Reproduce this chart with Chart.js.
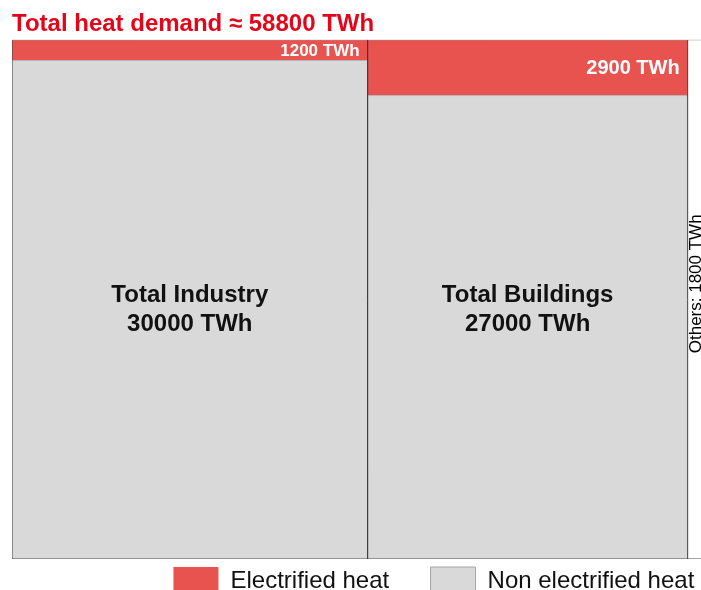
<!DOCTYPE html>
<html>
<head>
<meta charset="utf-8">
<script src="https://cdn.jsdelivr.net/npm/chart.js@4.4.1/dist/chart.umd.min.js"></script>
<style>
    html, body { margin: 0; padding: 0; background: #fff; overflow: hidden; }
    .chart-box { width: 709px; height: 605px; }
</style>
</head>
<body>
<div class="chart-box"><canvas id="heat-chart"></canvas></div>
<script>
var sectors = ['Total Industry', 'Total Buildings', 'Others'];
var sectorTotals = [30000, 27000, 1800];
var electrifiedHeat = [1200, 2900, null]; // no split for others
var legendLabels = ['Electrified heat', 'Non electrified heat'];

var RED = '#e9534f';
var GREY = '#d9d9d9';
var FONT = "'Liberation Sans', Arial, sans-serif";

var totalDemand = sectorTotals.reduce(function (a, b) { return a + b; }, 0);

// column edges along the x axis (TWh)
var edges = [0];
sectorTotals.forEach(function (t, i) { edges.push(edges[i] + t); });

// share of non electrified heat, in %
function greyShare(i) {
    return 100 * (1 - electrifiedHeat[i] / sectorTotals[i]);
}

function seg(points, style) {
    var ds = { data: points, showLine: true, pointRadius: 0, borderWidth: 0, fill: false, order: 1 };
    for (var k in style) ds[k] = style[k];
    return ds;
}

var datasets = [];
sectors.forEach(function (name, i) {
    if (electrifiedHeat[i] === null) return;
    var x0 = edges[i], x1 = edges[i + 1], g = greyShare(i);
    datasets.push(seg([{ x: x0, y: g }, { x: x1, y: g }], { backgroundColor: GREY, fill: 'origin', order: 3 }));
    datasets.push(seg([{ x: x0, y: 100 }, { x: x1, y: 100 }], { backgroundColor: RED, fill: { value: g }, order: 3 }));
    datasets.push(seg([{ x: x0, y: g }, { x: x1, y: g }], { borderColor: '#b5b5b5', borderWidth: 1, order: 2 }));
    // vertical sides of the column
    datasets.push(seg([{ x: x0, y: 0 }, { x: x0, y: 100 }], { borderColor: '#3c3c3c', borderWidth: 1 }));
    datasets.push(seg([{ x: x1, y: 0 }, { x: x1, y: 100 }], { borderColor: '#3c3c3c', borderWidth: 1 }));
});
// frame lines over the full width
datasets.push(seg([{ x: 0, y: 100 }, { x: totalDemand, y: 100 }], { borderColor: '#9a9a9a', borderWidth: 1 }));
datasets.push(seg([{ x: 0, y: 0 }, { x: totalDemand, y: 0 }], { borderColor: '#4a4a4a', borderWidth: 1 }));

var sectorLabels = {
    id: 'sectorLabels',
    afterDatasetsDraw: function (chart) {
        var ctx = chart.ctx;
        var xs = chart.scales.x, ys = chart.scales.y;
        ctx.save();
        sectors.forEach(function (name, i) {
            var cx = xs.getPixelForValue((edges[i] + edges[i + 1]) / 2);
            if (electrifiedHeat[i] === null) {
                ctx.save();
                ctx.translate(cx - 2, ys.getPixelForValue(53));
                ctx.rotate(-Math.PI / 2);
                ctx.font = '17px ' + FONT;
                ctx.fillStyle = '#000';
                ctx.textAlign = 'center';
                ctx.textBaseline = 'middle';
                ctx.fillText(name + ': ' + sectorTotals[i] + ' TWh', 0, 0);
                ctx.restore();
                return;
            }
            // name and total in the middle of the column
            var cy = ys.getPixelForValue(48);
            ctx.font = 'bold 24px ' + FONT;
            ctx.fillStyle = '#111';
            ctx.textAlign = 'center';
            ctx.textBaseline = 'middle';
            ctx.fillText(name, cx, cy - 14.5);
            ctx.fillText(sectorTotals[i] + ' TWh', cx, cy + 14.5);

            // electrified value inside the red band
            var top = ys.getPixelForValue(100);
            var bottom = ys.getPixelForValue(greyShare(i));
            var size = Math.min(20, Math.round(bottom - top - 4));
            ctx.font = 'bold ' + size + 'px ' + FONT;
            ctx.fillStyle = '#fff';
            ctx.textAlign = 'right';
            ctx.fillText(electrifiedHeat[i] + ' TWh', xs.getPixelForValue(edges[i + 1]) - 8, (top + bottom) / 2 + 1);
        });
        ctx.restore();
    }
};

new Chart(document.getElementById('heat-chart'), {
    type: 'scatter',
    data: { datasets: datasets },
    options: {
        responsive: true,
        maintainAspectRatio: false,
        animation: false,
        events: [],
        layout: { padding: { left: 12, right: 0, top: 0, bottom: 0 } },
        scales: {
            x: { type: 'linear', min: 0, max: totalDemand, display: false },
            y: { min: 0, max: 100, display: false }
        },
        plugins: {
            title: {
                display: true,
                text: 'Total heat demand \u2248 ' + totalDemand + ' TWh',
                align: 'start',
                color: '#e3061b',
                font: { family: FONT, size: 24, weight: 'bold', lineHeight: 1.2 },
                padding: { top: 10, bottom: 1 }
            },
            legend: {
                position: 'bottom',
                align: 'end',
                labels: {
                    boxWidth: 45,
                    boxHeight: 28,
                    padding: 8,
                    color: '#111',
                    font: { family: FONT, size: 24 },
                    generateLabels: function () {
                        // trailing spaces widen the gap between the two items
                        return [
                            { text: legendLabels[0] + '     ', fillStyle: RED, strokeStyle: RED, lineWidth: 0, fontColor: '#111' },
                            { text: legendLabels[1] + ' ', fillStyle: GREY, strokeStyle: '#a6a6a6', lineWidth: 1, fontColor: '#111' }
                        ];
                    }
                }
            },
            tooltip: { enabled: false }
        }
    },
    plugins: [sectorLabels]
});
</script>
</body>
</html>
